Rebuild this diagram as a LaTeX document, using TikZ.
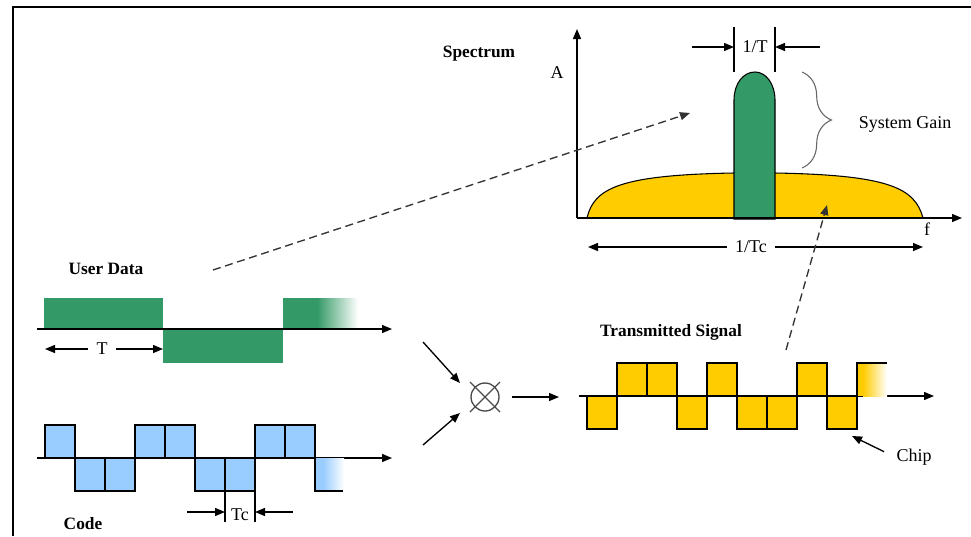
\documentclass[tikz,border=0pt]{standalone}
\usepackage{fontspec}
\setmainfont{Liberation Serif}
\usetikzlibrary{arrows.meta,decorations.pathreplacing,calc}
\definecolor{datagreen}{RGB}{51,153,102}
\definecolor{chipblue}{RGB}{153,204,255}
\definecolor{chipgold}{RGB}{255,204,0}

\begin{document}
\begin{tikzpicture}[x=0.75pt,y=-0.75pt]
  \tikzstyle{titre}=[font=\fontsize{13}{15}\selectfont\bfseries]
  \tikzstyle{lbl}=[font=\fontsize{13.5}{16}\selectfont,inner sep=1pt]
  \tikzstyle{gap}=[lbl,inner xsep=6pt]
  \tikzset{edge/.style = {-{Triangle[length=7.5pt,width=6pt]},line width=1pt}}
  \tikzset{dash edge/.style = {edge,black!80,dash pattern=on 6pt off 3.5pt}}
  \tikzset{chip/.style = {draw=black,line width=1pt}}
  \useasboundingbox (0,0) rectangle (971,536);
  \fill[white] (0,0) rectangle (971,536);
  \draw[line width=1.6pt] (13,536) -- (13,7) -- (971,7);

  % user data
  \node[titre] (ud) at (106,269) {User Data};
  \fill[datagreen] (44,298) rectangle (163,329);
  \fill[datagreen] (163,329) rectangle (283,363);
  \fill[datagreen] (283,298) rectangle (318,329);
  \shade[left color=datagreen,right color=white] (317,298) rectangle (358,329);
  \coordinate (ud0) at (37,329);
  \coordinate (ud1) at (392,329);
  \draw[edge] (ud0) -- (ud1);
  \node[gap] (T) at (102,349) {T};
  \coordinate (T0) at (45,349);
  \coordinate (T1) at (163,349);
  \draw[edge] (T) -- (T0);
  \draw[edge] (T) -- (T1);

  % code
  \coordinate (c0) at (37,458);
  \coordinate (c1) at (392,458);
  \draw[edge] (c0) -- (c1);
  \foreach \s [count=\k from 0] in {1,-1,-1,1,1,-1,-1,1,1}
    \filldraw[chip,fill=chipblue] ({45+30*\k},458) rectangle ({75+30*\k},{458-33*\s});
  \fill[chipblue] (315,458) rectangle (324,491);
  \shade[left color=chipblue,right color=white] (323,458) rectangle (344,491);
  \draw[chip] (315,458) -- (315,491) -- (343,491);
  \draw[line width=1pt] (225,491) -- (225,522) (255,491) -- (255,522);
  \node[lbl] (Tc) at (240,515) {Tc};
  \coordinate (tca) at (187,512);
  \coordinate (tca') at (225,512);
  \coordinate (tcb) at (293,512);
  \coordinate (tcb') at (255,512);
  \draw[edge] (tca) -- (tca');
  \draw[edge] (tcb) -- (tcb');
  \node[titre] (code) at (83,524) {Code};

  % multiplier
  \node[circle,draw=black!70,line width=1pt,minimum size=21pt,inner sep=0pt] (mult) at (485,397) {};
  \draw[black!70,line width=1pt] ($(mult)+(-15,-15)$) -- ($(mult)+(15,15)$)
    ($(mult)+(-15,15)$) -- ($(mult)+(15,-15)$);
  \coordinate (in1) at (423,342);
  \coordinate (in1') at (460,383);
  \coordinate (in2) at (423,445);
  \coordinate (in2') at (460,413);
  \coordinate (out) at (512,397);
  \coordinate (out') at (559,397);
  \draw[edge] (in1) -- (in1');
  \draw[edge] (in2) -- (in2');
  \draw[edge] (out) -- (out');

  % transmitted signal
  \node[titre] (tx) at (671,332) {Transmitted Signal};
  \coordinate (tx0) at (579,396);
  \coordinate (tx1) at (934,396);
  \draw[edge] (tx0) -- (tx1);
  \foreach \s [count=\k from 0] in {-1,1,1,-1,1,-1,-1,1,-1}
    \filldraw[chip,fill=chipgold] ({587+30*\k},396) rectangle ({617+30*\k},{396-33*\s});
  \fill[chipgold] (857,396) rectangle (864,363);
  \shade[left color=chipgold,right color=white] (863,396) rectangle (887,363);
  \draw[chip] (857,396) -- (857,363) -- (887,363);
  \node[lbl] (chip) at (914,457) {Chip};
  \coordinate (chipt) at (852,436);
  \draw[edge,shorten <=9pt] (chip.west) -- (chipt);

  % spectrum
  \node[titre] (spec) at (479,54) {Spectrum};
  \filldraw[fill=chipgold,draw=black,line width=0.8pt] (587,218) .. controls (594,188) and (620,175) .. (734,173)
    -- (775,173) .. controls (889,175) and (915,188) .. (923,218) -- cycle;
  \filldraw[fill=datagreen,draw=black,line width=0.8pt] (734,219) -- (734,100) .. controls (734,84) and (743,72) .. (755,72)
    .. controls (766,72) and (775,84) .. (775,100) -- (775,219) -- cycle;
  \coordinate (O) at (577,218);
  \coordinate (ytop) at (577,29);
  \coordinate (xend) at (962,218);
  \draw[edge] (O) -- (ytop);
  \draw[edge] (O) -- (xend);
  \node[lbl] (A) at (557,73) {A};
  \node[lbl] (f) at (927,229) {f};
  \draw[line width=1pt] (734,27) -- (734,72) (775,27) -- (775,72);
  \node[lbl] (bw) at (755,47) {1/T};
  \coordinate (bwa) at (692,47);
  \coordinate (bwa') at (734,47);
  \coordinate (bwb) at (820,47);
  \coordinate (bwb') at (775,47);
  \draw[edge] (bwa) -- (bwa');
  \draw[edge] (bwb) -- (bwb');
  \draw[decorate,decoration={brace,amplitude=22pt},black!60,line width=0.8pt] (802,72) -- (802,168);
  \node[lbl] (gain) at (905,124) {System Gain};
  \node[gap] (Tcw) at (751,247) {1/Tc};
  \coordinate (Tcw0) at (588,247);
  \coordinate (Tcw1) at (923,247);
  \draw[edge] (Tcw) -- (Tcw0);
  \draw[edge] (Tcw) -- (Tcw1);

  % dashed links
  \coordinate (l1) at (213,270);
  \coordinate (l1') at (690,113);
  \coordinate (l2) at (786,350);
  \coordinate (l2') at (827,205);
  \draw[dash edge] (l1) -- (l1');
  \draw[dash edge] (l2) -- (l2');
\end{tikzpicture}
\end{document}
